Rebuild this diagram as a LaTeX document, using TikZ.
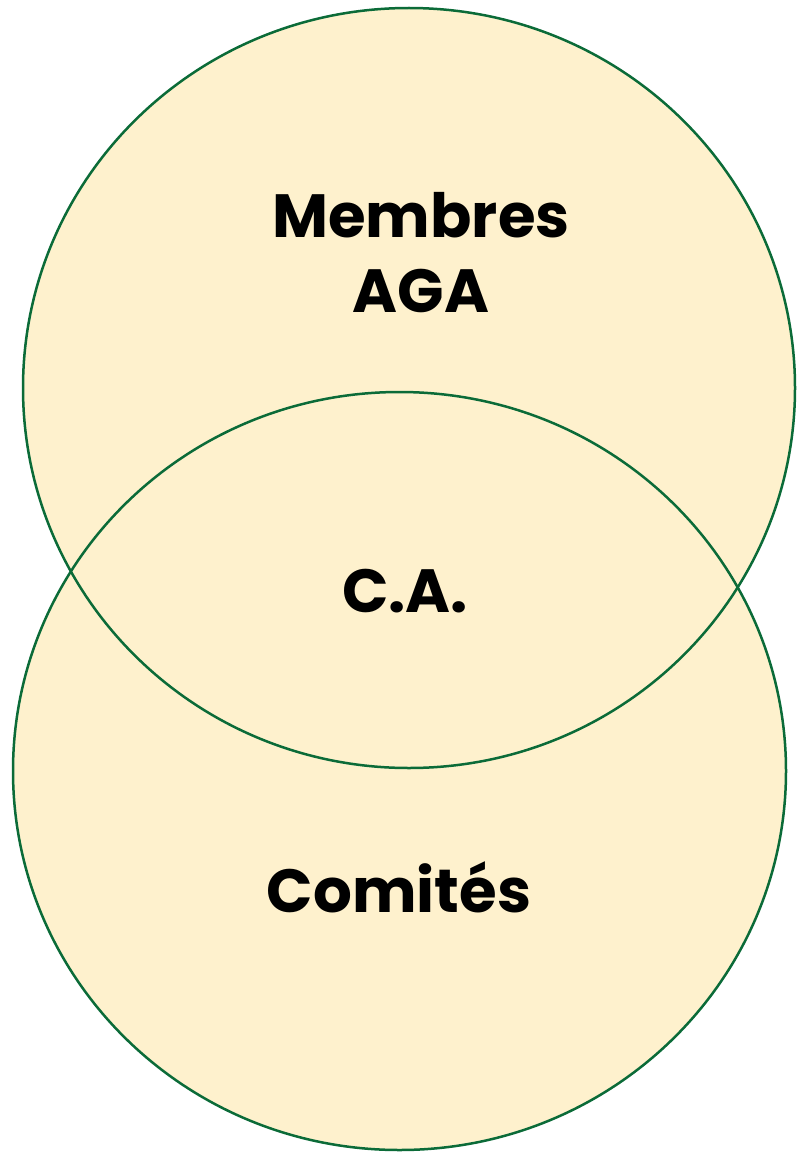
\documentclass[tikz,border=0pt]{standalone}
\usepackage{fontspec}
\setmainfont{Poppins}[BoldFont={* Bold}]
\definecolor{vennfill}{HTML}{FEF1CD}
\definecolor{venngreen}{HTML}{0B6B38}
\tikzset{
	vennset/.style={line width=2.5pt, draw=venngreen},
	vennlabel/.style={anchor=base, font=\bfseries\fontsize{61}{75}\selectfont, text=black}
}

\begin{document}
\begin{tikzpicture}[x=1pt, y=-1pt]
			%%%%% START %%%%%
			\useasboundingbox (0, 0) rectangle (797, 1153);
			
			\fill[vennfill] (409, 388) ellipse (386 and 380);
			\fill[vennfill] (399.5, 771) ellipse (386.5 and 379);
			\draw[vennset] (409, 388) ellipse (386 and 380);
			\draw[vennset] (399.5, 771) ellipse (386.5 and 379);
			
			\node[vennlabel] (membres) at (421, 237) {Membres};
			\node[vennlabel] (aga) at (421, 312) {AGA};
			\node[vennlabel] (ca) at (405, 612) {C.A.};
			\node[vennlabel] (comites) at (399, 912) {Comités};
			
			%%%%% END %%%%%
		\end{tikzpicture}
\end{document}
